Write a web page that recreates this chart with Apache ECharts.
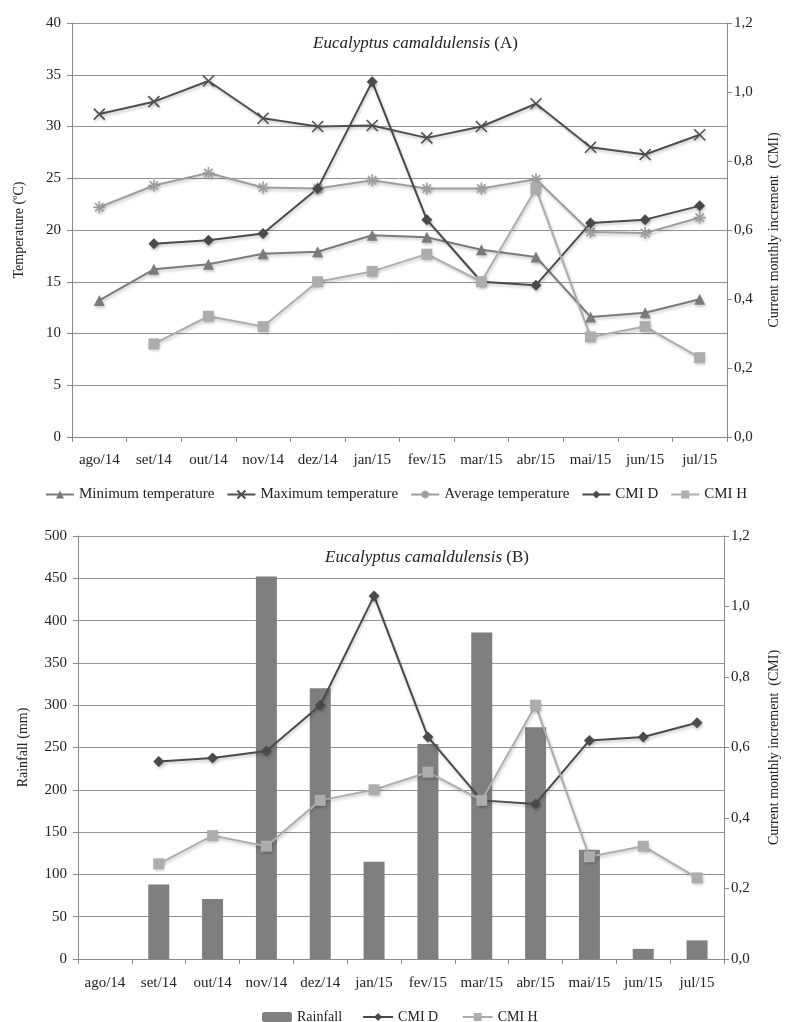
<!DOCTYPE html>
<html>
<head>
<meta charset="utf-8">
<script src="https://cdn.jsdelivr.net/npm/echarts@6/dist/echarts.min.js"></script>
<style>
html,body{margin:0;padding:0;background:#fff;overflow:hidden;}
#chart{width:789px;height:1022px;}
</style>
</head>
<body>
<div id="chart"></div>
<script>
var months = ['ago/14','set/14','out/14','nov/14','dez/14','jan/15','fev/15','mar/15','abr/15','mai/15','jun/15','jul/15'];
var minTemp = [13.2, 16.2, 16.7, 17.7, 17.9, 19.5, 19.3, 18.1, 17.4, 11.6, 12.0, 13.3];
var maxTemp = [31.2, 32.4, 34.4, 30.8, 30.0, 30.1, 28.9, 30.0, 32.2, 28.0, 27.3, 29.2];
var avgTemp = [22.2, 24.3, 25.5, 24.1, 24.0, 24.8, 24.0, 24.0, 24.9, 19.8, 19.7, 21.2];
var cmiD = [null, 0.56, 0.57, 0.59, 0.72, 1.03, 0.63, 0.45, 0.44, 0.62, 0.63, 0.67];
var cmiH = [null, 0.27, 0.35, 0.32, 0.45, 0.48, 0.53, 0.45, 0.72, 0.29, 0.32, 0.23];
var rainfall = [0, 88, 71, 452, 320, 115, 254, 386, 274, 129, 12, 22];
var tempTicks = {min: 0, max: 40, interval: 5};
var rainTicks = {min: 0, max: 500, interval: 50};
var cmiTicks = {min: 0, max: 1.2, interval: 0.2};

var FONT = '"Liberation Serif", "DejaVu Serif", serif';
var TXT = '#222';
var cCol = {min: '#7b7b7b', max: '#4f4f4f', avg: '#9d9d9d', d: '#4a4a4a', h: '#adadad', bar: '#7f7f7f'};
var xSym = 'path://M0,0L10,10M10,0L0,10';
var starSym = 'path://M5,0L5,10M0,5L10,5M1.5,1.5L8.5,8.5M8.5,1.5L1.5,8.5';
function comma(v){ return v.toFixed(1).replace('.', ','); }

var axisLineStyle = {lineStyle: {color: '#8a8a8a', width: 1}};
var labelStyle = {color: TXT, fontFamily: FONT, fontSize: 15};
var nameStyle = {color: TXT, fontFamily: FONT, fontSize: 14};
var shadow = {shadowColor: 'rgba(0,0,0,0.22)', shadowBlur: 3, shadowOffsetX: 1, shadowOffsetY: 2};

function xAxis(g, margin){
  return {type: 'category', gridIndex: g, data: months, boundaryGap: true,
    axisLine: axisLineStyle, axisTick: {show: true, length: 5, lineStyle: {color: '#8a8a8a'}},
    axisLabel: Object.assign({margin: margin, interval: 0}, labelStyle), splitLine: {show: false}};
}
function leftAxis(g, t, name, gap){
  return {type: 'value', gridIndex: g, position: 'left', min: t.min, max: t.max, interval: t.interval,
    name: name, nameLocation: 'middle', nameRotate: 90, nameGap: gap, nameTextStyle: nameStyle,
    axisLine: {show: true, lineStyle: {color: '#8a8a8a'}}, axisTick: {show: true, length: 5, lineStyle: {color: '#8a8a8a'}},
    axisLabel: Object.assign({margin: 11}, labelStyle),
    splitLine: {show: true, lineStyle: {color: '#939393', width: 1}}};
}
function rightAxis(g, gap){
  return {type: 'value', gridIndex: g, position: 'right', min: cmiTicks.min, max: cmiTicks.max, interval: cmiTicks.interval,
    name: 'Current monthly increment  (CMI)', nameLocation: 'middle', nameRotate: 90, nameGap: gap, nameTextStyle: nameStyle,
    axisLine: {show: true, lineStyle: {color: '#8a8a8a'}}, axisTick: {show: true, length: 5, lineStyle: {color: '#8a8a8a'}},
    axisLabel: Object.assign({margin: 7, formatter: comma}, labelStyle),
    splitLine: {show: false}};
}
function lineSeries(name, data, xi, yi, color, symbol, size, stroke){
  var s = {name: name, type: 'line', xAxisIndex: xi, yAxisIndex: yi, data: data,
    symbol: symbol, symbolSize: size, showAllSymbol: true, connectNulls: false,
    lineStyle: Object.assign({color: color, width: 2}, shadow), color: color,
    itemStyle: Object.assign({color: color}, shadow)};
  if (stroke) { s.itemStyle = Object.assign({color: 'rgba(0,0,0,0)', borderColor: color, borderWidth: 1.6}, shadow); }
  return s;
}
function titleText(letter, left, top){
  return {text: '{i|Eucalyptus camaldulensis} {n|(' + letter + ')}', left: left, top: top, padding: 0,
    textStyle: {fontWeight: 'normal', fontFamily: FONT, fontSize: 17, color: TXT,
      rich: {i: {fontFamily: FONT, fontStyle: 'italic', fontWeight: 'normal', fontSize: 17, color: TXT},
             n: {fontFamily: FONT, fontWeight: 'normal', fontSize: 17, color: TXT}}}};
}

var chart = echarts.init(document.getElementById('chart'), null, {renderer: 'canvas'});
chart.setOption({
  animation: false,
  backgroundColor: '#fff',
  title: [titleText('A', 313, 35), titleText('B', 325, 549)],
  legend: [
    {data: ['Minimum temperature', 'Maximum temperature', 'Average temperature', 'CMI D', 'CMI H'],
      left: 40, top: 482, itemWidth: 28, itemHeight: 10, itemGap: 12,
      textStyle: {fontFamily: FONT, fontSize: 15, color: TXT}},
    {data: ['Rainfall', 'CMI D ', 'CMI H '],
      left: 257, top: 1005, itemWidth: 30, itemHeight: 10, itemGap: 20,
      textStyle: {fontFamily: FONT, fontSize: 14, color: TXT}}
  ],
  grid: [
    {left: 72, width: 660, top: 23, height: 414, containLabel: false},
    {left: 78, width: 657, top: 536, height: 423, containLabel: false}
  ],
  xAxis: [xAxis(0, 16), xAxis(1, 17)],
  yAxis: [
    leftAxis(0, tempTicks, 'Temperature (ºC)', 46),
    rightAxis(0, 40),
    leftAxis(1, rainTicks, 'Rainfall (mm)', 48),
    rightAxis(1, 43)
  ],
  series: [
    lineSeries('Minimum temperature', minTemp, 0, 0, cCol.min, 'triangle', 11),
    lineSeries('Maximum temperature', maxTemp, 0, 0, cCol.max, xSym, 11, true),
    lineSeries('Average temperature', avgTemp, 0, 0, cCol.avg, starSym, 12, true),
    lineSeries('CMI D', cmiD, 0, 1, cCol.d, 'diamond', 11),
    lineSeries('CMI H', cmiH, 0, 1, cCol.h, 'rect', 11),
    {name: 'Rainfall', type: 'bar', xAxisIndex: 1, yAxisIndex: 2, data: rainfall, barWidth: '39%',
      itemStyle: {color: cCol.bar}, color: cCol.bar, z: 1},
    lineSeries('CMI D ', cmiD, 1, 3, cCol.d, 'diamond', 11),
    lineSeries('CMI H ', cmiH, 1, 3, cCol.h, 'rect', 11)
  ]
});
</script>
</body>
</html>
